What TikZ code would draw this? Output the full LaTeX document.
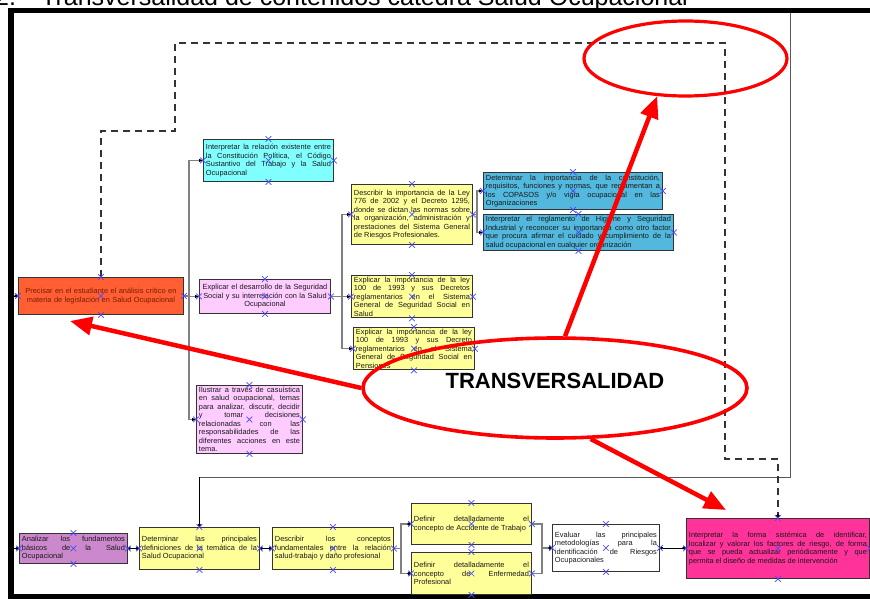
\documentclass[tikz,border=0pt]{standalone}
\usepackage{fontspec}
\setmainfont{Liberation Sans}
\usetikzlibrary{arrows.meta,shapes.geometric,shapes.misc}

\definecolor{cOrange}{HTML}{FF5F32}
\definecolor{cOrangeTxt}{HTML}{7A1A08}
\definecolor{cCyan}{HTML}{80FFFF}
\definecolor{cPink}{HTML}{FFCCFF}
\definecolor{cYellow}{HTML}{FFFF99}
\definecolor{cBlue}{HTML}{52B8DD}
\definecolor{cPurple}{HTML}{CC88CC}
\definecolor{cMagenta}{HTML}{FF3399}
\definecolor{cMark}{HTML}{4848FF}

\newcommand\boxfont{\fontsize{7.4}{8.5}\selectfont\tolerance=10000\hyphenpenalty=10000}

\begin{document}
\begin{tikzpicture}[x=1pt,y=-1pt,
  box/.style={draw=black!80, line width=0.9pt, anchor=north west, inner xsep=2.5pt,
    inner ysep=1.5pt, align=justify, text=black!90, font=\boxfont},
  mk/.style={draw=cMark, cross out, minimum size=5pt, inner sep=0pt, line width=0.7pt},
  conn/.style={draw=black!50, line width=1.4pt, -{Latex[length=4pt,width=3.6pt,color=black]}},
  dconn/.style={draw=black!50, line width=1.4pt, -{Circle[length=3.6pt,color=black]}},
  lconn/.style={draw=black, line width=0.9pt, -{Circle[length=3.6pt]}},
  llconn/.style={draw=black, line width=0.9pt, {Circle[length=3.2pt]}-{Circle[length=3.6pt]}},
  frameline/.style={draw=black!65, line width=1pt},
  dashconn/.style={draw=black!80, line width=1.2pt, dash pattern=on 7pt off 5pt, -{Circle[length=4pt,color=black]}},
  redell/.style={draw=red, ellipse, inner sep=0pt},
  redarr/.style={draw=red, line width=4.5pt, -{Triangle[length=22pt,width=18pt]}}
]
\clip (0,0) rectangle (870,599);
\fill[white] (0,0) rectangle (870,599);

% heading, cut by the top edge
\node[anchor=base west, inner sep=0pt, font=\fontsize{25}{27}\selectfont] (titlenum) at (-5,6) {2.};
\node[anchor=base west, inner sep=0pt, font=\fontsize{25}{27}\selectfont] (titletxt) at (41,6) {Transversalidad de contenidos cátedra Salud Ocupacional};

% page frame
\draw[line width=5.5pt] (11,10.5) rectangle (900,596.5);

% ---- upper branch ----
\node[box, fill=cOrange, minimum width=165pt, minimum height=37pt, text width=160pt, align=center, text=cOrangeTxt] (orange) at (18,277)
  {Precisar en el estudiante el análisis crítico en\\ materia de legislación en Salud Ocupacional};
\node[box, fill=cCyan, minimum width=130pt, minimum height=42pt, text width=125pt] (cyan) at (203,139)
  {Interpretar la relación existente entre\linebreak la Constitución Política, el Código\linebreak Sustantivo del Trabajo y la Salud\linebreak Ocupacional};
\node[box, fill=cPink, minimum width=131pt, minimum height=34pt, text width=126pt, align=center] (pinkA) at (199,279)
  {Explicar el desarrollo de la Seguridad\\ Social y su interrelación con la Salud\\ Ocupacional};
\node[box, fill=cPink, minimum width=106pt, minimum height=67pt, text width=101pt] (pinkB) at (196,385)
  {Ilustrar a través de casuística\linebreak en salud ocupacional, temas\linebreak para analizar, discutir, decidir\linebreak y tomar decisiones\linebreak relacionadas con las\linebreak responsabilidades de las\linebreak diferentes acciones en este\linebreak tema.};
\node[box, fill=cYellow, minimum width=121pt, minimum height=60pt, text width=116pt] (yelA) at (351,184)
  {Describir la importancia de la Ley\linebreak 776 de 2002 y el Decreto 1295,\linebreak donde se dictan las normas sobre\linebreak la organización, administración y\linebreak prestaciones del Sistema General\linebreak de Riesgos Profesionales.};
\node[box, fill=cYellow, minimum width=121pt, minimum height=41pt, text width=116pt] (yelB) at (351,275)
  {Explicar la importancia de la ley\linebreak 100 de 1993 y sus Decretos\linebreak reglamentarios en el Sistema\linebreak General de Seguridad Social en\linebreak Salud};
\node[box, fill=cYellow, minimum width=121pt, minimum height=41pt, text width=116pt] (yelC) at (353,327)
  {Explicar la importancia de la ley\linebreak 100 de 1993 y sus Decreto\linebreak reglamentarios en el Sistema\linebreak General de Seguridad Social en\linebreak Pensiones};
\node[box, fill=cBlue, minimum width=179pt, minimum height=37pt, text width=174pt] (bluA) at (483,172)
  {Determinar la importancia de la constitución,\linebreak requisitos, funciones y normas, que reglamentan a\linebreak los COPASOS y/o vigía ocupacional en las\linebreak Organizaciones};
\node[box, fill=cBlue, minimum width=190pt, minimum height=36pt, text width=185pt] (bluB) at (483,214)
  {Interpretar el reglamento de Higiene y Seguridad\linebreak Industrial y reconocer su importancia como otro factor\linebreak que procura afirmar el cuidado y cumplimiento de la\linebreak salud ocupacional en cualquier organización};

% ---- lower chain ----
\node[box, fill=cPurple, minimum width=108pt, minimum height=30pt, text width=103pt] (purp) at (19,533)
  {Analizar los fundamentos\linebreak básicos de la Salud\linebreak Ocupacional};
\node[box, fill=cYellow, minimum width=120pt, minimum height=42pt, text width=115pt] (determ) at (139,527)
  {Determinar las principales\linebreak definiciones de la temática de la\linebreak Salud Ocupacional};
\node[box, fill=cYellow, minimum width=121pt, minimum height=42pt, text width=116pt] (describ) at (272,527)
  {Describir los conceptos\linebreak fundamentales entre la relación\linebreak salud-trabajo y daño profesional};
\node[box, fill=cYellow, minimum width=120pt, minimum height=41pt, text width=115pt] (defA) at (411,503)
  {Definir detalladamente el\linebreak concepto de Accidente de Trabajo};
\node[box, fill=cYellow, minimum width=120pt, minimum height=42pt, text width=115pt] (defB) at (411,552)
  {Definir detalladamente el\linebreak concepto de Enfermedad\linebreak Profesional};
\node[box, fill=white, minimum width=107pt, minimum height=47pt, text width=102pt] (evaluar) at (552,524)
  {Evaluar las principales\linebreak metodologías para la\linebreak identificación de Riesgos\linebreak Ocupacionales};
\node[box, fill=cMagenta, minimum width=183pt, minimum height=60pt, text width=178pt] (magenta) at (686,518)
  {Interpretar la forma sistémica de identificar,\linebreak localizar y valorar los factores de riesgo, de forma\linebreak que se pueda actualizar periódicamente y que\linebreak permita el diseño de medidas de intervención};

% bus positions
\coordinate (busA) at (189,0);
\coordinate (busB) at (342,0);
\coordinate (busC) at (477,0);
\coordinate (busD) at (401,0);
\coordinate (busE) at (542,0);
\coordinate (frL) at (14,0);
\coordinate (frTop) at (790,13);
\coordinate (hl) at (0,477);

% upper connectors
\draw[conn] (orange.east) -- (orange.east -| busA) |- (cyan.west);
\draw[conn] (orange.east) -- (orange.east -| busA) |- (pinkA.west);
\draw[conn] (orange.east) -- (orange.east -| busA) |- (pinkB.west);
\draw[conn] (pinkA.east) -- (pinkA.east -| busB) |- (yelA.west);
\draw[conn] (pinkA.east) -- (pinkA.east -| busB) |- (yelB.west);
\draw[conn] (pinkA.east) -- (pinkA.east -| busB) |- (yelC.west);
\draw[conn] (yelA.east) -- (yelA.east -| busC) |- (bluA.west);
\draw[conn] (yelA.east) -- (yelA.east -| busC) |- (bluB.west);
\draw[lconn] (orange.west -| frL) -- (orange.west);

% lower connectors
\draw[lconn] (purp.west -| frL) -- (purp.west);
\draw[llconn] (purp.east) -- (purp.east -| determ.west);
\draw[llconn] (determ.east) -- (describ.west);
\draw[dconn] (describ.east) -- (describ.east -| busD) |- (defA.west);
\draw[dconn] (describ.east) -- (describ.east -| busD) |- (defB.west);
\draw[dconn] (defA.east) -- (defA.east -| busE) |- (evaluar.west);
\draw[dconn] (defB.east) -- (defB.east -| busE) |- (evaluar.west);
\draw[llconn] (evaluar.east) -- (evaluar.east -| magenta.west);
\draw[frameline] (frTop) |- (hl -| determ.north);
\draw[lconn] (hl -| determ.north) -- (determ.north);

% dashed link from the first objective to the last one
\coordinate (d1) at (100.5,131);
\coordinate (d2) at (175,131);
\coordinate (d3) at (175,43);
\coordinate (d4) at (725,43);
\coordinate (d5) at (725,459);
\draw[dashconn] (orange.north) -- (orange.north |- d1) -- (d2) -- (d3) -- (d4) -- (d5) -- (d5 -| magenta.north) -- (magenta.north);

% connection points of every box
\foreach \b in {orange,cyan,pinkA,pinkB,yelA,yelB,yelC,bluA,bluB,purp,determ,describ,defA,defB,evaluar,magenta}
  \foreach \a in {north,south,east,west,center}
    \node[mk] (mk-\b-\a) at (\b.\a) {};

% transversality marks
\node[redell, line width=3.6pt, minimum width=384pt, minimum height=100pt] (transv) at (555,388) {};
\node[font=\bfseries\fontsize{22}{24}\selectfont, anchor=base, inner sep=0pt] (transvtxt) at (555,388) {TRANSVERSALIDAD};
\node[redell, line width=3.2pt, minimum width=203pt, minimum height=75pt] (topell) at (685.5,58.5) {};
\coordinate (tipA) at (70,321);
\coordinate (tipC) at (726,510);
\draw[redarr] (transv.west) -- (tipA);
\draw[redarr] (transv.79) -- (topell.233);
\draw[redarr] (transv.305) -- (tipC);
\end{tikzpicture}
\end{document}
